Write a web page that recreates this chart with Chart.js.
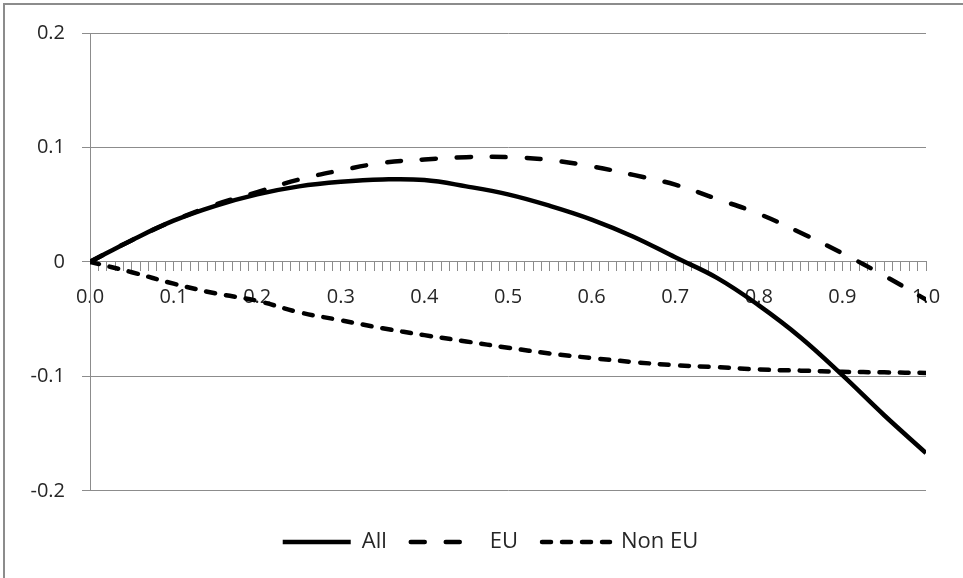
<!DOCTYPE html>
<html>
<head>
<meta charset="utf-8">
<script src="https://cdn.jsdelivr.net/npm/chart.js@4.4.1/dist/chart.umd.min.js"></script>
<style>
  html, body { margin: 0; padding: 0; background: #fff; }
  #wrap { position: relative; width: 963px; height: 578px; overflow: hidden; }
  #frame { position: absolute; left: 3px; top: 3px; width: 990px; height: 600px;
           border-left: 2px solid #8c8c8c; border-top: 2px solid #8c8c8c; pointer-events: none; }
</style>
</head>
<body>
<div id="wrap">
  <canvas id="chart" width="963" height="578"></canvas>
  <div id="frame"></div>
</div>
<script>
// x from 0 to 1
const xValues = [0, 0.05, 0.1, 0.15, 0.2, 0.25, 0.3, 0.35, 0.4, 0.45, 0.5,
                 0.55, 0.6, 0.65, 0.7, 0.75, 0.8, 0.85, 0.9, 0.95, 1.0];
const allValues = [0, 0.019, 0.036, 0.049, 0.059, 0.066, 0.070, 0.072, 0.0715, 0.066, 0.059,
                   0.049, 0.037, 0.022, 0.004, -0.014, -0.038, -0.066, -0.099, -0.134, -0.167];
const euValues = [0, 0.019, 0.036, 0.050, 0.061, 0.072, 0.080, 0.0865, 0.0895, 0.0915, 0.0915,
                  0.089, 0.0835, 0.076, 0.0675, 0.055, 0.042, 0.0255, 0.0075, -0.012, -0.033];
const nonEuValues = [0, -0.009, -0.019, -0.0275, -0.034, -0.044, -0.051, -0.058, -0.064, -0.0695, -0.075,
                     -0.080, -0.084, -0.0875, -0.0903, -0.092, -0.094, -0.095, -0.096, -0.0965, -0.097];
const seriesNames = ["All", "EU", "Non EU"];

const FONT = "'Open Sans', 'Liberation Sans', sans-serif";
const gray = "#8c8c8c";
const textColor = "#262626";

const toPoints = (ys) => xValues.map((x, i) => ({ x: x, y: ys[i] }));

// legend in the original sits a bit right of the canvas centre
const shiftLegend = {
  id: "shiftLegend",
  afterLayout(chart) {
    chart.legend.left += 55;
  },
};

const ctx = document.getElementById("chart");

const myChart = new Chart(ctx, {
  type: "line",
  data: {
    datasets: [
      {
        label: seriesNames[0],
        data: toPoints(allValues),
        borderColor: "#000",
        borderWidth: 4.5,
        borderCapStyle: "butt",
      },
      {
        label: seriesNames[1],
        data: toPoints(euValues),
        borderColor: "#000",
        borderWidth: 4.5,
        borderDash: [14, 21],
        borderCapStyle: "round",
      },
      {
        label: seriesNames[2],
        data: toPoints(nonEuValues),
        borderColor: "#000",
        borderWidth: 4.5,
        borderDash: [9, 11],
        borderCapStyle: "round",
      },
    ],
  },
  plugins: [shiftLegend],
  options: {
    responsive: false,
    animation: false,
    layout: { padding: { top: 33, right: 37, bottom: 15, left: 0 } },
    elements: {
      point: { radius: 0 },
      line: { tension: 0.4, borderJoinStyle: "round" },
    },
    scales: {
      x: {
        type: "linear",
        min: 0,
        max: 1,
        position: { y: 0 },
        grid: { drawOnChartArea: false, drawTicks: true, tickLength: 9, tickColor: gray },
        border: { color: gray, width: 1 },
        ticks: {
          stepSize: 0.01,
          autoSkip: false,
          maxRotation: 0,
          padding: 14,
          color: textColor,
          font: { family: FONT, size: 20 },
          callback: (v) => (Math.round(v * 100) % 10 === 0 ? v.toFixed(1) : ""),
        },
      },
      y: {
        min: -0.2,
        max: 0.2,
        afterFit: (scale) => { scale.width = 90; },
        grid: { color: gray, tickLength: 8, tickColor: gray },
        border: { color: gray, width: 1 },
        ticks: {
          stepSize: 0.1,
          padding: 17,
          color: textColor,
          font: { family: FONT, size: 20 },
        },
      },
    },
    plugins: {
      tooltip: { enabled: false },
      legend: {
        position: "bottom",
        title: { display: true, text: " ", font: { size: 1 }, padding: { top: 15, bottom: 0 } },
        labels: {
          usePointStyle: true,
          pointStyle: "line",
          pointStyleWidth: 68,
          padding: 24,
          color: textColor,
          font: { family: FONT, size: 22 },
          // the point-style legend does not pick up the dash pattern by itself
          generateLabels: (chart) => {
            const items = Chart.defaults.plugins.legend.labels.generateLabels(chart);
            items.forEach((item) => {
              const ds = chart.data.datasets[item.datasetIndex];
              item.lineDash = ds.borderDash || [];
              item.lineCap = ds.borderCapStyle;
              item.lineWidth = 4.5;
              item.strokeStyle = "#000";
            });
            return items;
          },
        },
      },
    },
  },
});
</script>
</body>
</html>
